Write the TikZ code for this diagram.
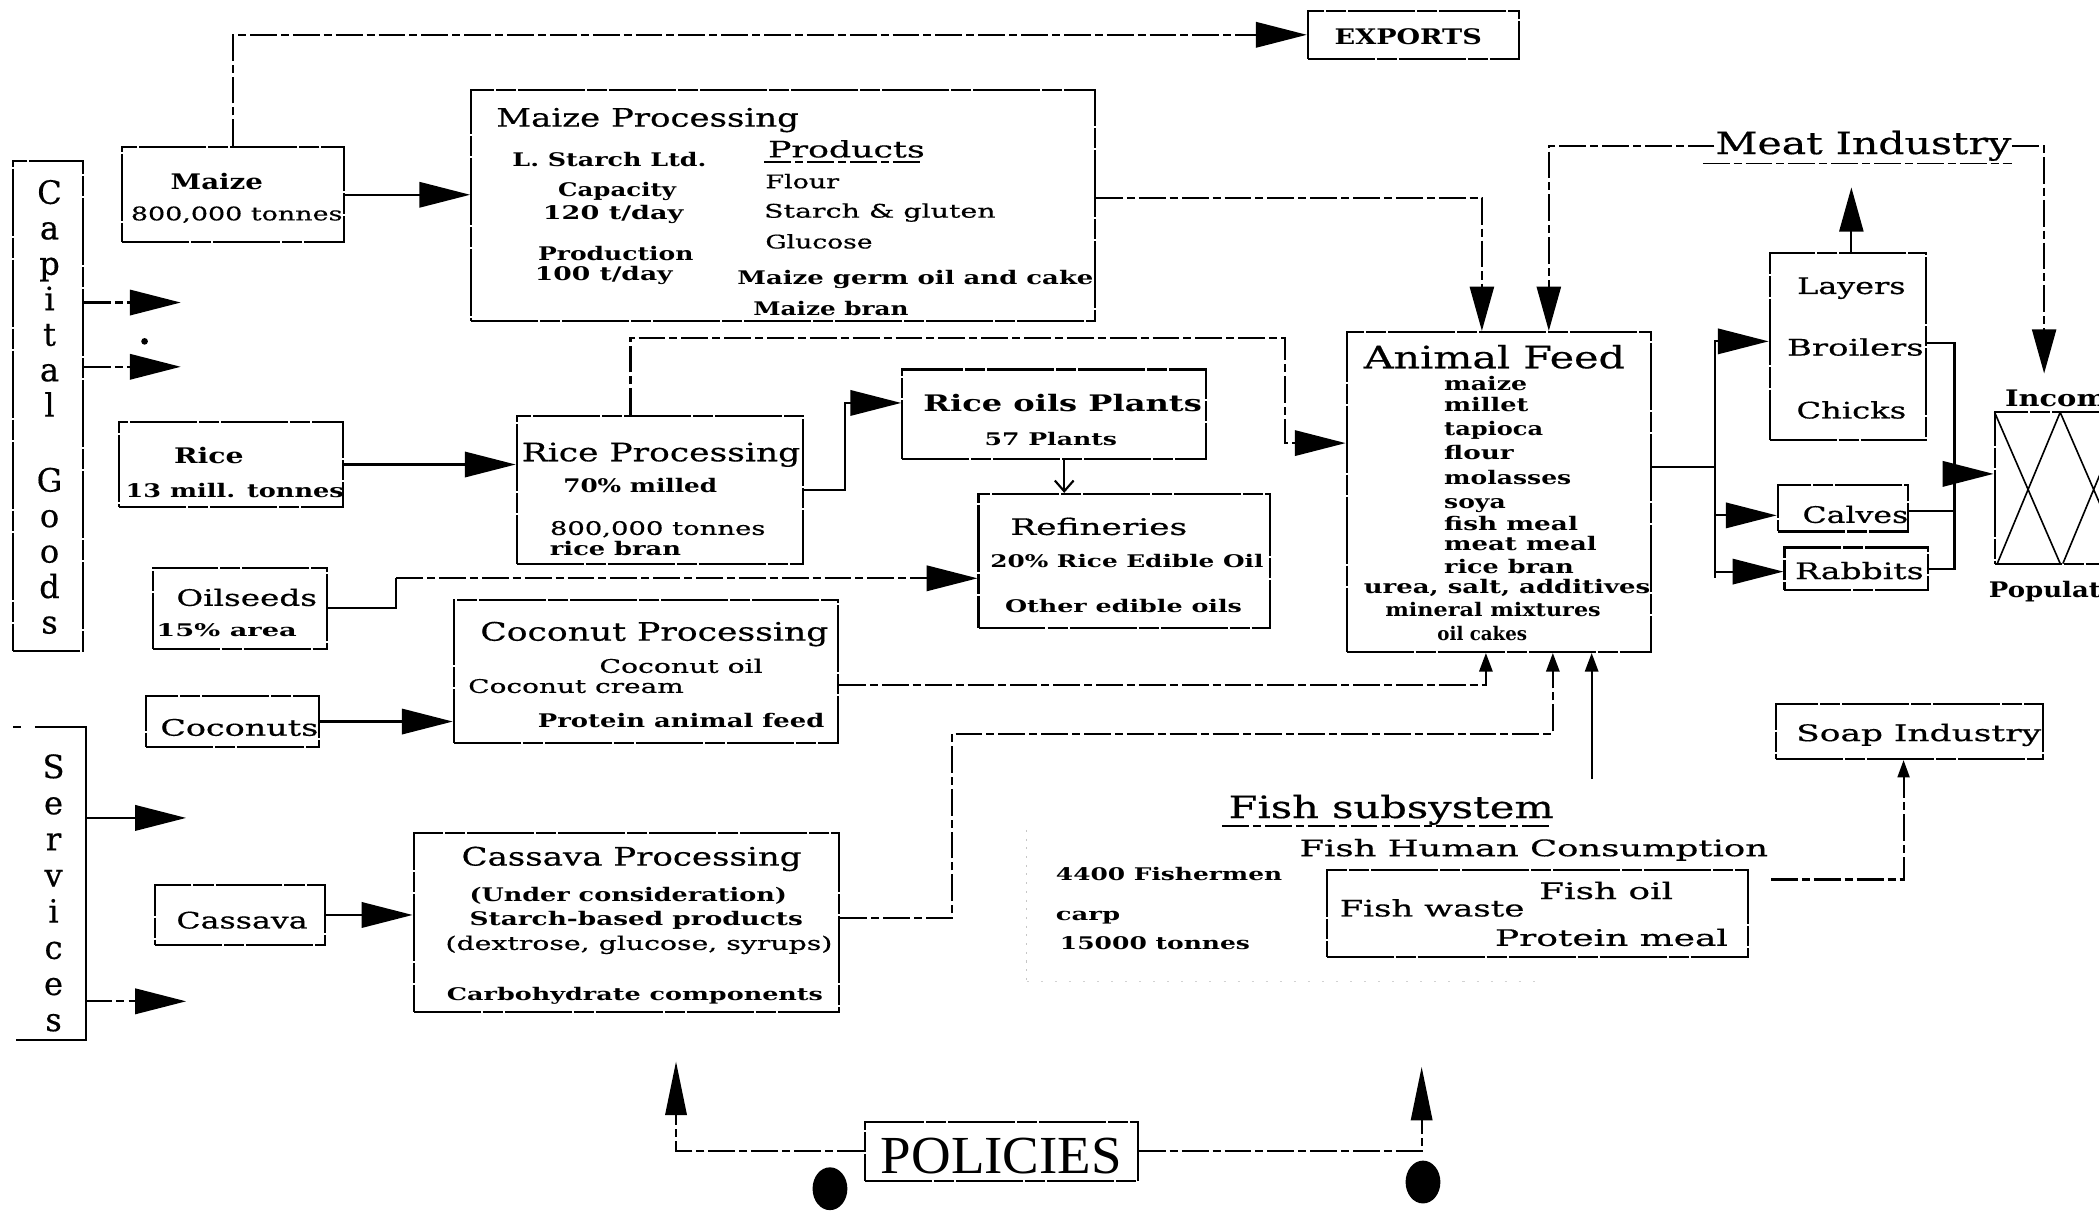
\documentclass[tikz,border=0pt]{standalone}
\usepackage{fontspec}
\usepackage{graphicx}
\setmainfont{DejaVu Serif}[UprightFeatures={FakeBold=0.5}]
\newfontfamily\polfont{Liberation Serif}
\usetikzlibrary{arrows.meta}
% stretch a label horizontally to a given width (in pt), keeping its height
\newcommand\fw[2]{\resizebox{#1pt}{\height}{#2}}
\begin{document}
\begin{tikzpicture}[x=1pt,y=-1pt,line width=1.6pt,
  box/.style={draw,dash pattern=on 50pt off 1.5pt on 15pt off 1.5pt,inner sep=0pt},
  sl/.style={solid},
  dl/.style={dash pattern=on 20pt off 3pt on 6pt off 3pt},
  big/.style={-{Triangle[length=38pt,width=19pt]}},
  vbig/.style={-{Triangle[length=33pt,width=18pt]}},
  pol/.style={-{Triangle[length=40pt,width=16pt]}},
  small/.style={-{Triangle[length=14pt,width=10pt]}},
  txt/.style={inner sep=0pt,anchor=mid,yshift=-4pt},
  txtl/.style={inner sep=0pt,anchor=mid west,yshift=-4pt},
  fH/.style={font=\fontsize{23}{23}\selectfont,yshift=-1.5pt},
  fT/.style={font=\fontsize{19}{19}\selectfont},
  fM/.style={font=\fontsize{17}{17}\selectfont},
  fMB/.style={font=\fontsize{17}{17}\selectfont\bfseries},
  fMb/.style={font=\fontsize{16}{16}\selectfont\bfseries},
  fS/.style={font=\fontsize{14}{14}\selectfont},
  fSb/.style={font=\fontsize{14}{14}\selectfont\bfseries},
  fX/.style={font=\fontsize{13}{13}\selectfont\bfseries}]
\useasboundingbox (0,0) rectangle (1568,905);
\clip (0,0) rectangle (1568,905);

% ---------- boxes ----------
\node[box,minimum width=158pt,minimum height=36pt] (exports) at (1056,26) {};
\node[box,minimum width=166pt,minimum height=71pt] (maize) at (174,145.5) {};
\node[box,minimum width=466pt,minimum height=173pt] (mp) at (585,153.5) {};
\node[box,minimum width=52pt,minimum height=366pt] (capital) at (36,303) {};
\node[box,minimum width=167pt,minimum height=64pt] (rice) at (172.5,347) {};
\node[box,minimum width=214pt,minimum height=110pt] (rp) at (493,366) {};
\node[box,minimum width=227pt,minimum height=67pt] (ro) at (787.5,309.5) {};
\node[box,minimum width=218pt,minimum height=100pt] (ref) at (840,419) {};
\node[box,minimum width=130pt,minimum height=61pt] (oil) at (179,454.5) {};
\node[box,minimum width=287pt,minimum height=107pt] (cp) at (482.5,501.5) {};
\node[box,minimum width=129pt,minimum height=38pt] (coco) at (173.5,539) {};
\node[box,minimum width=127pt,minimum height=45pt] (cass) at (179.5,683.5) {};
\node[box,minimum width=318pt,minimum height=134pt] (cassp) at (468,689) {};
\node[box,minimum width=227pt,minimum height=239pt] (af) at (1119.5,367.5) {};
\node[box,minimum width=117pt,minimum height=140pt] (layers) at (1380.5,259) {};
\node[box,minimum width=97pt,minimum height=35pt] (calves) at (1376.5,379.5) {};
\node[box,minimum width=107pt,minimum height=32pt] (rabbits) at (1386.5,425) {};
\node[box,minimum width=199pt,minimum height=41pt] (soap) at (1426.5,546.5) {};
\node[box,minimum width=315pt,minimum height=65pt] (fishbox) at (1148.5,682.5) {};
\node[box,minimum width=204pt,minimum height=44pt] (policies) at (748,860) {};
\node[box,minimum width=160pt,minimum height=113pt] (popbox) at (1570,364.5) {};
% crossed cells of the income / population block
\draw[sl,line width=1.2pt] (1490,308) -- (1539,421) (1539,308) -- (1492,421)
  (1539,308) -- (1588,421) (1588,308) -- (1541,421);

% services bracket
\draw[sl] (26,543) -- (64,543) -- (64,777) -- (12,777);
\draw[sl] (10,543) -- (16,543);
\coordinate (servR) at (64,660);

% ---------- texts ----------
\node[txt,fMb] (exports-t) at (1052,27) {\fw{110}{EXPORTS}};
\node[inner sep=0pt,font=\fontsize{24}{26.5}\selectfont,align=center] (capital-t) at (37,304)
  {C\\a\\p\\i\\t\\a\\l\\[29.5pt]G\\o\\o\\d\\s};
\node[inner sep=0pt,font=\fontsize{24}{27}\selectfont,align=center] (services-t) at (40,667)
  {S\\e\\r\\v\\i\\c\\e\\s};

\node[txt,fMb] (maize-t1) at (162,135) {\fw{69}{Maize}};
\node[txtl,fS] (maize-t2) at (97,158) {\fw{158}{800,000 tonnes}};

\node[txtl,fT] (mp-t1) at (370,88) {\fw{226}{Maize Processing}};
\node[txtl,fSb] (mp-t2) at (382,118) {\fw{145}{L. Starch Ltd.}};
\node[txt,fSb] (mp-t3) at (461,140) {\fw{88}{Capacity}};
\node[txt,fSb] (mp-t4) at (458,157) {\fw{105}{120 t/day}};
\node[txt,fSb] (mp-t5) at (460,188) {\fw{116}{Production}};
\node[txt,fSb] (mp-t6) at (451,203) {\fw{103}{100 t/day}};
\node[txtl,fM] (mp-t7) at (573,111) {\fw{117}{Products}};
\draw[dl,line width=1pt] (571,121) -- (690,121);
\node[txtl,fS] (mp-t8) at (571,134) {\fw{55}{Flour}};
\node[txtl,fS] (mp-t9) at (570,156) {\fw{173}{Starch \& gluten}};
\node[txtl,fS] (mp-t10) at (571,179) {\fw{80}{Glucose}};
\node[txtl,fSb] (mp-t11) at (550,206) {\fw{266}{Maize germ oil and cake}};
\node[txtl,fSb] (mp-t12) at (562,229) {\fw{116}{Maize bran}};

\node[txt,fMb] (rice-t1) at (156,340) {\fw{52}{Rice}};
\node[txtl,fSb] (rice-t2) at (93,365) {\fw{163}{13 mill. tonnes}};

\node[txtl,fT] (rp-t1) at (389,338) {\fw{208}{Rice Processing}};
\node[txtl,fSb] (rp-t2) at (420,361) {\fw{115}{70\% milled}};
\node[txtl,fS] (rp-t3) at (410,393) {\fw{161}{800,000 tonnes}};
\node[txtl,fSb] (rp-t4) at (410,408) {\fw{98}{rice bran}};

\node[txtl,fMB] (ro-t1) at (689,301) {\fw{208}{Rice oils Plants}};
\node[txt,fX] (ro-t2) at (785,326) {\fw{99}{57 Plants}};

\node[txtl,fM] (ref-t1) at (754,393) {\fw{132}{Refineries}};
\node[txtl,fX] (ref-t2) at (739,417) {\fw{204}{20\% Rice Edible Oil}};
\node[txtl,fX] (ref-t3) at (750,451) {\fw{177}{Other edible oils}};

\node[txtl,fM] (oil-t1) at (131,446) {\fw{105}{Oilseeds}};
\node[txtl,fX] (oil-t2) at (116,469) {\fw{105}{15\% area}};

\node[txtl,fT] (cp-t1) at (358,472) {\fw{260}{Coconut Processing}};
\node[txtl,fS] (cp-t2) at (447,496) {\fw{122}{Coconut oil}};
\node[txtl,fS] (cp-t3) at (349,511) {\fw{161}{Coconut cream}};
\node[txtl,fSb] (cp-t4) at (401,537) {\fw{214}{Protein animal feed}};

\node[txtl,fM] (coco-t) at (119,543) {\fw{118}{Coconuts}};
\node[txtl,fM] (cass-t) at (131,687) {\fw{98}{Cassava}};

\node[txtl,fT] (cassp-t1) at (344,640) {\fw{254}{Cassava Processing}};
\node[txtl,fSb] (cassp-t2) at (350,667) {\fw{237}{(Under consideration)}};
\node[txtl,fSb] (cassp-t3) at (350,685) {\fw{249}{Starch-based products}};
\node[txtl,fS] (cassp-t4) at (332,703) {\fw{289}{(dextrose, glucose, syrups)}};
\node[txtl,fX] (cassp-t5) at (333,741) {\fw{281}{Carbohydrate components}};

\node[txtl,fH] (af-t0) at (1018,267) {\fw{195}{Animal Feed}};
\node[txtl,fSb] (af-t1) at (1078,285) {\fw{62}{maize}};
\node[txtl,fSb] (af-t2) at (1078,301) {\fw{63}{millet}};
\node[txtl,fSb] (af-t3) at (1078,319) {\fw{74}{tapioca}};
\node[txtl,fSb] (af-t4) at (1078,337) {\fw{52}{flour}};
\node[txtl,fSb] (af-t5) at (1078,355) {\fw{95}{molasses}};
\node[txtl,fSb] (af-t6) at (1078,373) {\fw{46}{soya}};
\node[txtl,fSb] (af-t7) at (1078,390) {\fw{100}{fish meal}};
\node[txtl,fSb] (af-t8) at (1078,405) {\fw{114}{meat meal}};
\node[txtl,fSb] (af-t9) at (1078,422) {\fw{97}{rice bran}};
\node[txtl,fSb] (af-t10) at (1018,437) {\fw{214}{urea, salt, additives}};
\node[txtl,fSb] (af-t11) at (1034,454) {\fw{161}{mineral mixtures}};
\node[txtl,fSb] (af-t12) at (1073,472) {\fw{67}{oil cakes}};

\node[txt,fM] (layers-t1) at (1383,213) {\fw{81}{Layers}};
\node[txt,fM] (layers-t2) at (1386,259) {\fw{102}{Broilers}};
\node[txt,fM] (layers-t3) at (1383,306) {\fw{82}{Chicks}};
\node[txt,fM] (calves-t) at (1386,384) {\fw{79}{Calves}};
\node[txt,fM] (rabbits-t) at (1389,426) {\fw{96}{Rabbits}};

\node[txt,fH] (meat) at (1392,107) {\fw{221}{Meat Industry}};
\draw[dl,line width=1pt] (1272,122) -- (1503,122);

\node[txtl,fMB] (income-t) at (1497,297) {\fw{90}{Income}};
\node[txtl,fMb] (pop-t) at (1485,440) {\fw{118}{Population}};

\node[txtl,fM] (soap-t) at (1341,547) {\fw{183}{Soap Industry}};

\node[txtl,fH] (fish-t1) at (917,603) {\fw{243}{Fish subsystem}};
\draw[dl,line width=1pt] (913,617) -- (1160,617);
\node[txtl,fM] (fish-t2) at (970,633) {\fw{350}{Fish Human Consumption}};
\node[txtl,fX] (fish-t3) at (788,651) {\fw{169}{4400 Fishermen}};
\node[txtl,fX] (fish-t4) at (788,681) {\fw{48}{carp}};
\node[txtl,fX] (fish-t5) at (791,703) {\fw{142}{15000 tonnes}};
\node[txtl,fM] (fish-t6) at (1000,678) {\fw{138}{Fish waste}};
\node[txtl,fM] (fish-t7) at (1149,665) {\fw{100}{Fish oil}};
\node[txtl,fM] (fish-t8) at (1116,700) {\fw{174}{Protein meal}};
% faint frame traces of the fish subsystem
\draw[gray!45,line width=0.8pt,dash pattern=on 1.5pt off 5pt] (767,620) -- (767,735);
\draw[gray!35,line width=0.6pt,dash pattern=on 1.5pt off 9pt] (767,733) -- (1150,733);

\node[txt,yshift=-8pt,font=\polfont\fontsize{40}{40}\selectfont] (policies-t) at (748,862) {\fw{180}{POLICIES}};

% ---------- connectors ----------
\draw[dl,big] (maize.north) |- (exports.west);
\draw[sl,big] (maize.east) -- (mp.west |- maize.east);
\draw[dl,vbig] (mp.east |- 0,148) -| ([xshift=-12.5pt]af.north);
\draw[dl,vbig] (meat.west) -| ([xshift=37.5pt]af.north);
\coordinate (incin) at (1527,279);
\draw[dl,vbig] (meat.east) -| (incin);

\draw[sl,big] (rice.east) -- (rp.west |- rice.east);
\draw[dl,big] ([xshift=-22pt]rp.north) -- ++(0,-58) -| (960,331) -- (af.west |- 0,331);
\draw[sl,big] (rp.east) -- (631,366) |- (ro.west |- 0,301);
\draw[sl,-{Straight Barb[length=8pt,width=14pt]}] ([xshift=7.5pt]ro.south) -- ([xshift=7.5pt]ro.south |- ref.north);

\coordinate (oilbend) at (296,432);
\draw[sl] (oil.east) -| (oilbend);
\draw[dl,big] (oilbend) -- (ref.west |- oilbend);

\draw[sl,big] (coco.east) -- (cp.west |- coco.east);
\draw[dl,small] (cp.east |- 0,512) -| ([xshift=-9.5pt]af.south);

\draw[sl,big] (cass.east) -- (cassp.west |- cass.east);
\draw[dl,small] (cassp.east |- 0,686) -| (711,548) -| ([xshift=40.5pt]af.south);

\coordinate (fishtop) at (1189,582);
\draw[sl,small] (fishtop) -- (fishtop |- af.south);
\coordinate (fishout) at (1323,657);
\draw[dl,-{Triangle[length=13pt,width=9pt]}] (fishout) -| ([xshift=-4.5pt]soap.south);

\coordinate (afsplit) at (1281,349);
\draw[sl] (af.east |- afsplit) -- (afsplit) -- (1281,432);
\draw[sl,big] (afsplit) |- (layers.west |- 0,255);
\draw[sl,big] (afsplit) |- (calves.west |- 0,385);
\draw[sl,big] (afsplit) |- (rabbits.west |- 0,427);

\coordinate (layersup) at (1383,140);
\draw[sl,vbig] (layers.north -| layersup) -- (layersup);

\coordinate (merge) at (1460,354);
\draw[sl] (layers.east |- 0,256) -- (1460,256) -- (1460,425) -- (rabbits.east |- 0,425);
\draw[sl] (calves.east |- 0,382) -- (1460,382);
\draw[sl,big] (merge) -- (popbox.west |- merge);

\coordinate (cgA) at (135,226);
\coordinate (cgB) at (135,274);
\draw[dl,big] (capital.east |- cgA) -- (cgA);
\draw[dl,big] (capital.east |- cgB) -- (cgB);
\fill (108,255) circle (2.5pt);

\coordinate (svA) at (139,611);
\coordinate (svB) at (139,748);
\draw[sl,big] (servR |- svA) -- (svA);
\draw[dl,big] (servR |- svB) -- (svB);

\coordinate (polL) at (505,793);
\coordinate (polR) at (1062,797);
\draw[dl,pol] (policies.west) -| (polL);
\draw[dl,pol] (policies.east) -| (polR);
\fill (620,888) ellipse [x radius=13pt,y radius=16pt];
\fill (1063,883) ellipse [x radius=13pt,y radius=16pt];
\end{tikzpicture}
\end{document}
